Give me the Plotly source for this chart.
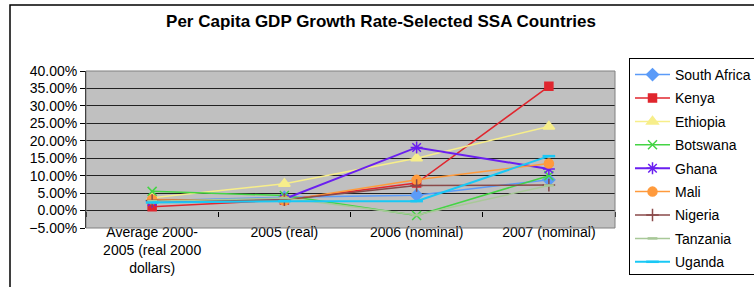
import plotly.graph_objects as go

categories = ["Average 2000-<br>2005 (real 2000<br>dollars)", "2005 (real)", "2006 (nominal)", "2007 (nominal)"]

south_africa = [2.8, 3.8, 4.4, 8.8]
kenya = [1.1, 3.0, 7.9, 35.6]
ethiopia = [3.7, 7.7, 15.0, 24.1]
botswana = [5.5, 4.3, -1.4, 10.0]
ghana = [2.5, 3.3, 18.1, 11.9]
mali = [3.2, 2.9, 8.8, 13.5]
nigeria = [2.9, 3.1, 7.2, 7.3]
tanzania = [2.7, 3.6, -1.3, 7.2]
uganda = [2.3, 2.7, 2.7, 15.6]

y_ticks = [-5, 0, 5, 10, 15, 20, 25, 30, 35, 40]

series = [
    ("South Africa", south_africa, "#5B9BF8", "diamond", 9, 1.5),
    ("Kenya", kenya, "#E0262E", "square", 8, 1.5),
    ("Ethiopia", ethiopia, "#F7EE8A", "triangle-up", 10, 1.5),
    ("Botswana", botswana, "#44D444", "x-thin-open", 9, 1.5),
    ("Ghana", ghana, "#6A1FF0", "asterisk-open", 10, 2),
    ("Mali", mali, "#FF9A3C", "circle", 9, 1.5),
    ("Nigeria", nigeria, "#8A4A4A", "cross-thin-open", 9, 1.5),
    ("Tanzania", tanzania, "#A8C898", "line-ew-open", 7, 1.5),
    ("Uganda", uganda, "#19C8F5", "line-ew-open", 9, 2),
]

W, H = 754, 287
L, R = 86, 615          # plot area left/right pixels
T, B = 71, 228          # plot area top/bottom pixels
LEG_T, LEG_B = 58, 275  # legend top/bottom pixels (grid area)
gh = LEG_B - LEG_T
dom0 = (LEG_B - B) / gh
dom1 = (LEG_B - T) / gh
y_min, y_max = -0.05, 0.40
zero_pos = dom0 + (0 - y_min) / (y_max - y_min) * (dom1 - dom0)

fig = go.Figure()
for name, vals, color, sym, size, lw in series:
    fig.add_trace(go.Scatter(
        x=categories, y=[v / 100 for v in vals], name=name, mode="lines+markers",
        line=dict(color=color, width=lw),
        marker=dict(symbol=sym, size=size, color=color,
                    line=dict(color=color, width=2.5 if "line" in sym else 1.5)),
        legendgroup=name,
    ))

# invisible trace for boundary ticks at the 0% line
fig.add_trace(go.Scatter(x=categories, y=[0] * 4, xaxis="x2", mode="none",
                         showlegend=False, hoverinfo="skip"))

fig.update_layout(
    width=W, height=H,
    margin=dict(l=L, r=W - R, t=LEG_T, b=H - LEG_B, autoexpand=False),
    paper_bgcolor="white", plot_bgcolor="white",
    font=dict(family="Liberation Sans, Arial, sans-serif", size=14, color="black"),
    title=dict(text="<b>Per Capita GDP Growth Rate-Selected SSA Countries</b>",
               x=381 / W, xanchor="center", xref="container", y=1 - 21 / H, yanchor="middle",
               font=dict(size=17, color="black")),
    showlegend=True,
    legend=dict(x=(629 - L) / (R - L), xanchor="left", y=1, yanchor="top",
                bordercolor="black", borderwidth=1, bgcolor="white",
                font=dict(size=14), tracegroupgap=2.2, traceorder="grouped",
                itemwidth=35),
    xaxis=dict(type="category", range=[-0.5, 3.5], showgrid=False, ticks="",
               showline=False, tickfont=dict(size=14), fixedrange=True,
               ticklabelstandoff=-6),
    xaxis2=dict(type="category", range=[-0.5, 3.5], overlaying="x", anchor="free",
                position=zero_pos, showticklabels=False, ticks="outside", ticklen=5,
                tickcolor="black", tickson="boundaries", showgrid=False, showline=False,
                matches="x"),
    yaxis=dict(domain=[dom0, dom1], range=[y_min, y_max],
               tickvals=[v / 100 for v in y_ticks], tickformat=".2%",
               showgrid=True, gridcolor="#222222", gridwidth=1, zeroline=False,
               showline=True, linecolor="black", ticks="outside", ticklen=5, tickcolor="black",
               tickfont=dict(size=14)),
    shapes=[
        dict(type="rect", xref="x domain", yref="y domain", x0=0, x1=1, y0=0, y1=1,
             line=dict(width=0), fillcolor="#C0C0C0", layer="below"),
        dict(type="rect", xref="x domain", yref="y domain", x0=0, x1=1, y0=0, y1=1,
             line=dict(color="#808080", width=1), fillcolor="rgba(0,0,0,0)"),
        dict(type="rect", xref="paper", yref="paper", x0=-(L - 10) / (R - L), x1=2,
             y0=-1, y1=(LEG_B - 5) / gh,
             line=dict(color="black", width=1.5), fillcolor="rgba(0,0,0,0)"),
    ],
)

fig.write_html("out.html", config={"displayModeBar": False},
               post_script="document.body.style.margin='0px';document.body.style.overflow='hidden';")
